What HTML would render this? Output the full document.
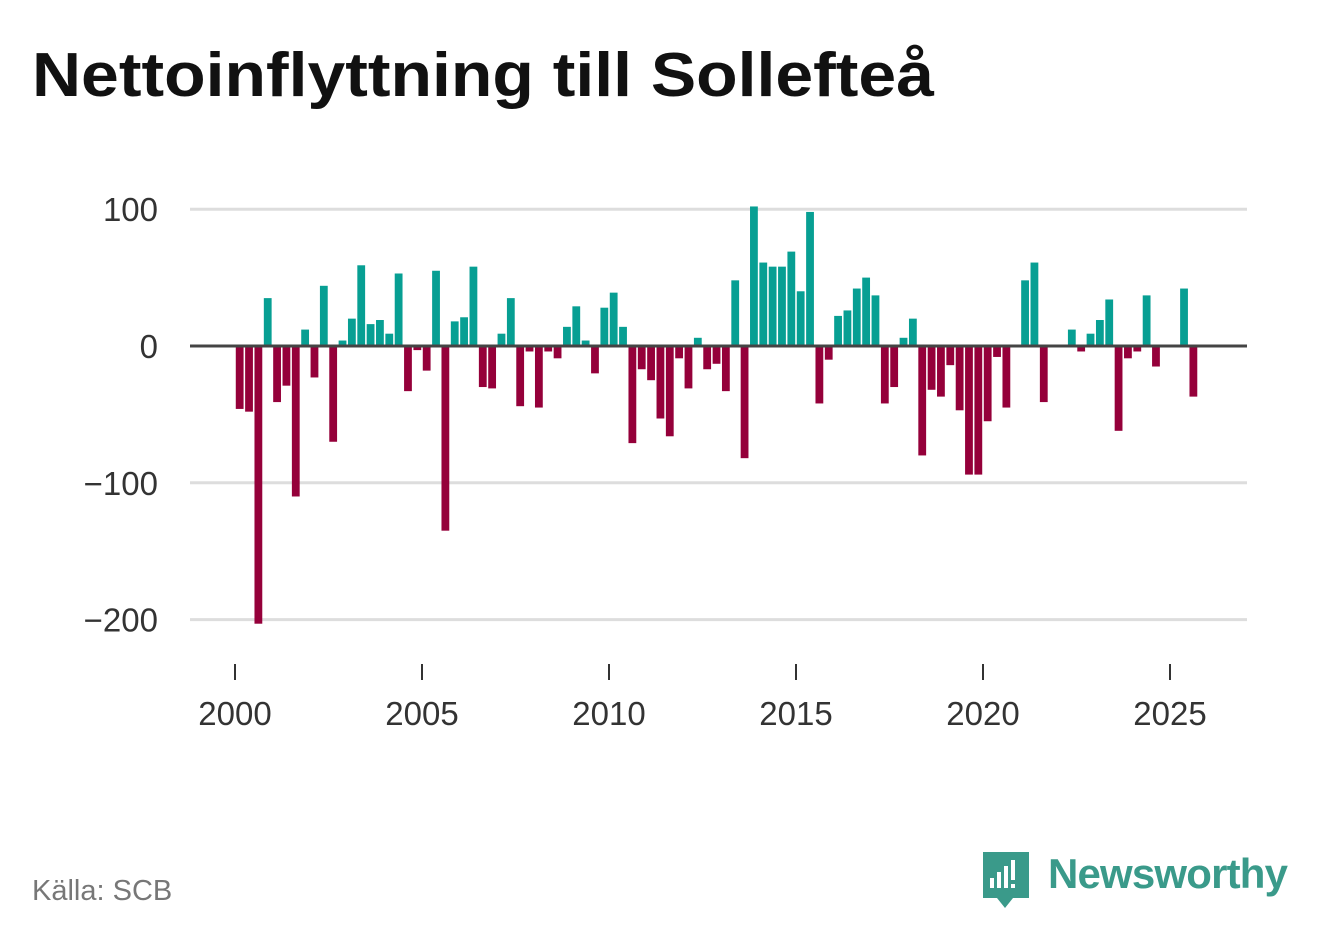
<!DOCTYPE html>
<html><head><meta charset="utf-8"><style>
body{margin:0;background:#fff;width:1322px;height:939px;overflow:hidden;font-family:"Liberation Sans",sans-serif}
</style></head><body>
<svg width="1322" height="939">
<text x="32" y="96" font-size="62" font-weight="bold" fill="#111" textLength="902" lengthAdjust="spacingAndGlyphs">Nettoinflyttning till Sollefteå</text>
<g id="grid"></g><g id="bars"></g><g id="axis"></g>
<text x="32" y="900" font-size="29" fill="#777">Källa: SCB</text>
<g>
<path d="M983 852 h46 v46 h-16 l-8 10 l-8 -10 h-14 z" fill="#3a9a8a"/>
<rect x="990" y="878" width="4" height="10" fill="#fff"/><rect x="997" y="872" width="4" height="16" fill="#fff"/><rect x="1004" y="866" width="4" height="22" fill="#fff"/><rect x="1011" y="860" width="4" height="20" fill="#fff"/><rect x="1011" y="884" width="4" height="4" fill="#fff"/>
<text x="1048" y="888" font-size="42" fill="#3a9a8a" font-weight="bold" textLength="240">Newsworthy</text>
</g>
</svg>
<script>
const yTicks=[100,0,-100,-200];
const yTickLabels=["100","0","−100","−200"];
const xTicks=[2000,2005,2010,2015,2020,2025];
const values=[-46,-48,-203,35,-41,-29,-110,12,-23,44,-70,4,20,59,16,19,9,53,-33,-3,-18,55,-135,18,21,58,-30,-31,9,35,-44,-4,-45,-4,-9,14,29,4,-20,28,39,14,-71,-17,-25,-53,-66,-9,-31,6,-17,-13,-33,48,-82,102,61,58,58,69,40,98,-42,-10,22,26,42,50,37,-42,-30,6,20,-80,-32,-37,-14,-47,-94,-94,-55,-8,-45,-1,48,61,-41,0,0,12,-4,9,19,34,-62,-9,-4,37,-15,-1,-1,42,-37];
const NS="http://www.w3.org/2000/svg";
const y=v=>346-v*1.368;
const x=yr=>235+(yr-2000)*37.4;
const grid=document.getElementById('grid'),bars=document.getElementById('bars'),axis=document.getElementById('axis');
function mk(tag,at,parent){const e=document.createElementNS(NS,tag);for(const k in at)e.setAttribute(k,at[k]);parent.appendChild(e);return e;}
yTicks.forEach((t,i)=>{
 if(t!==0){const l=mk('line',{x1:190,x2:1247,y1:y(t),y2:y(t),stroke:'#ddd','stroke-width':3},grid);
 
 }
 const tx=mk('text',{x:158,y:y(t)+12,'font-size':33,fill:'#333','text-anchor':'end'},axis);tx.textContent=yTickLabels[i];
 
 
});
values.forEach((v,i)=>{
 const cx=x(2000+(i+0.5)/4);
 const r=mk('rect',{x:cx-3.9,width:7.8,y:Math.min(y(v),y(0)),height:Math.abs(y(v)-y(0)),fill:v>=0?'#079f93':'#95003a'},bars);
 
 
});
const zl=mk('line',{x1:190,x2:1247,y1:y(0),y2:y(0),stroke:'#444','stroke-width':3},axis);


xTicks.forEach(t=>{
 const l=mk('line',{x1:x(t),x2:x(t),y1:664,y2:680,stroke:'#333','stroke-width':2},axis);
 
 
 const tx=mk('text',{x:x(t),y:725,'font-size':33,fill:'#333','text-anchor':'middle'},axis);tx.textContent=t;
 
 
});
</script>
</body></html>
